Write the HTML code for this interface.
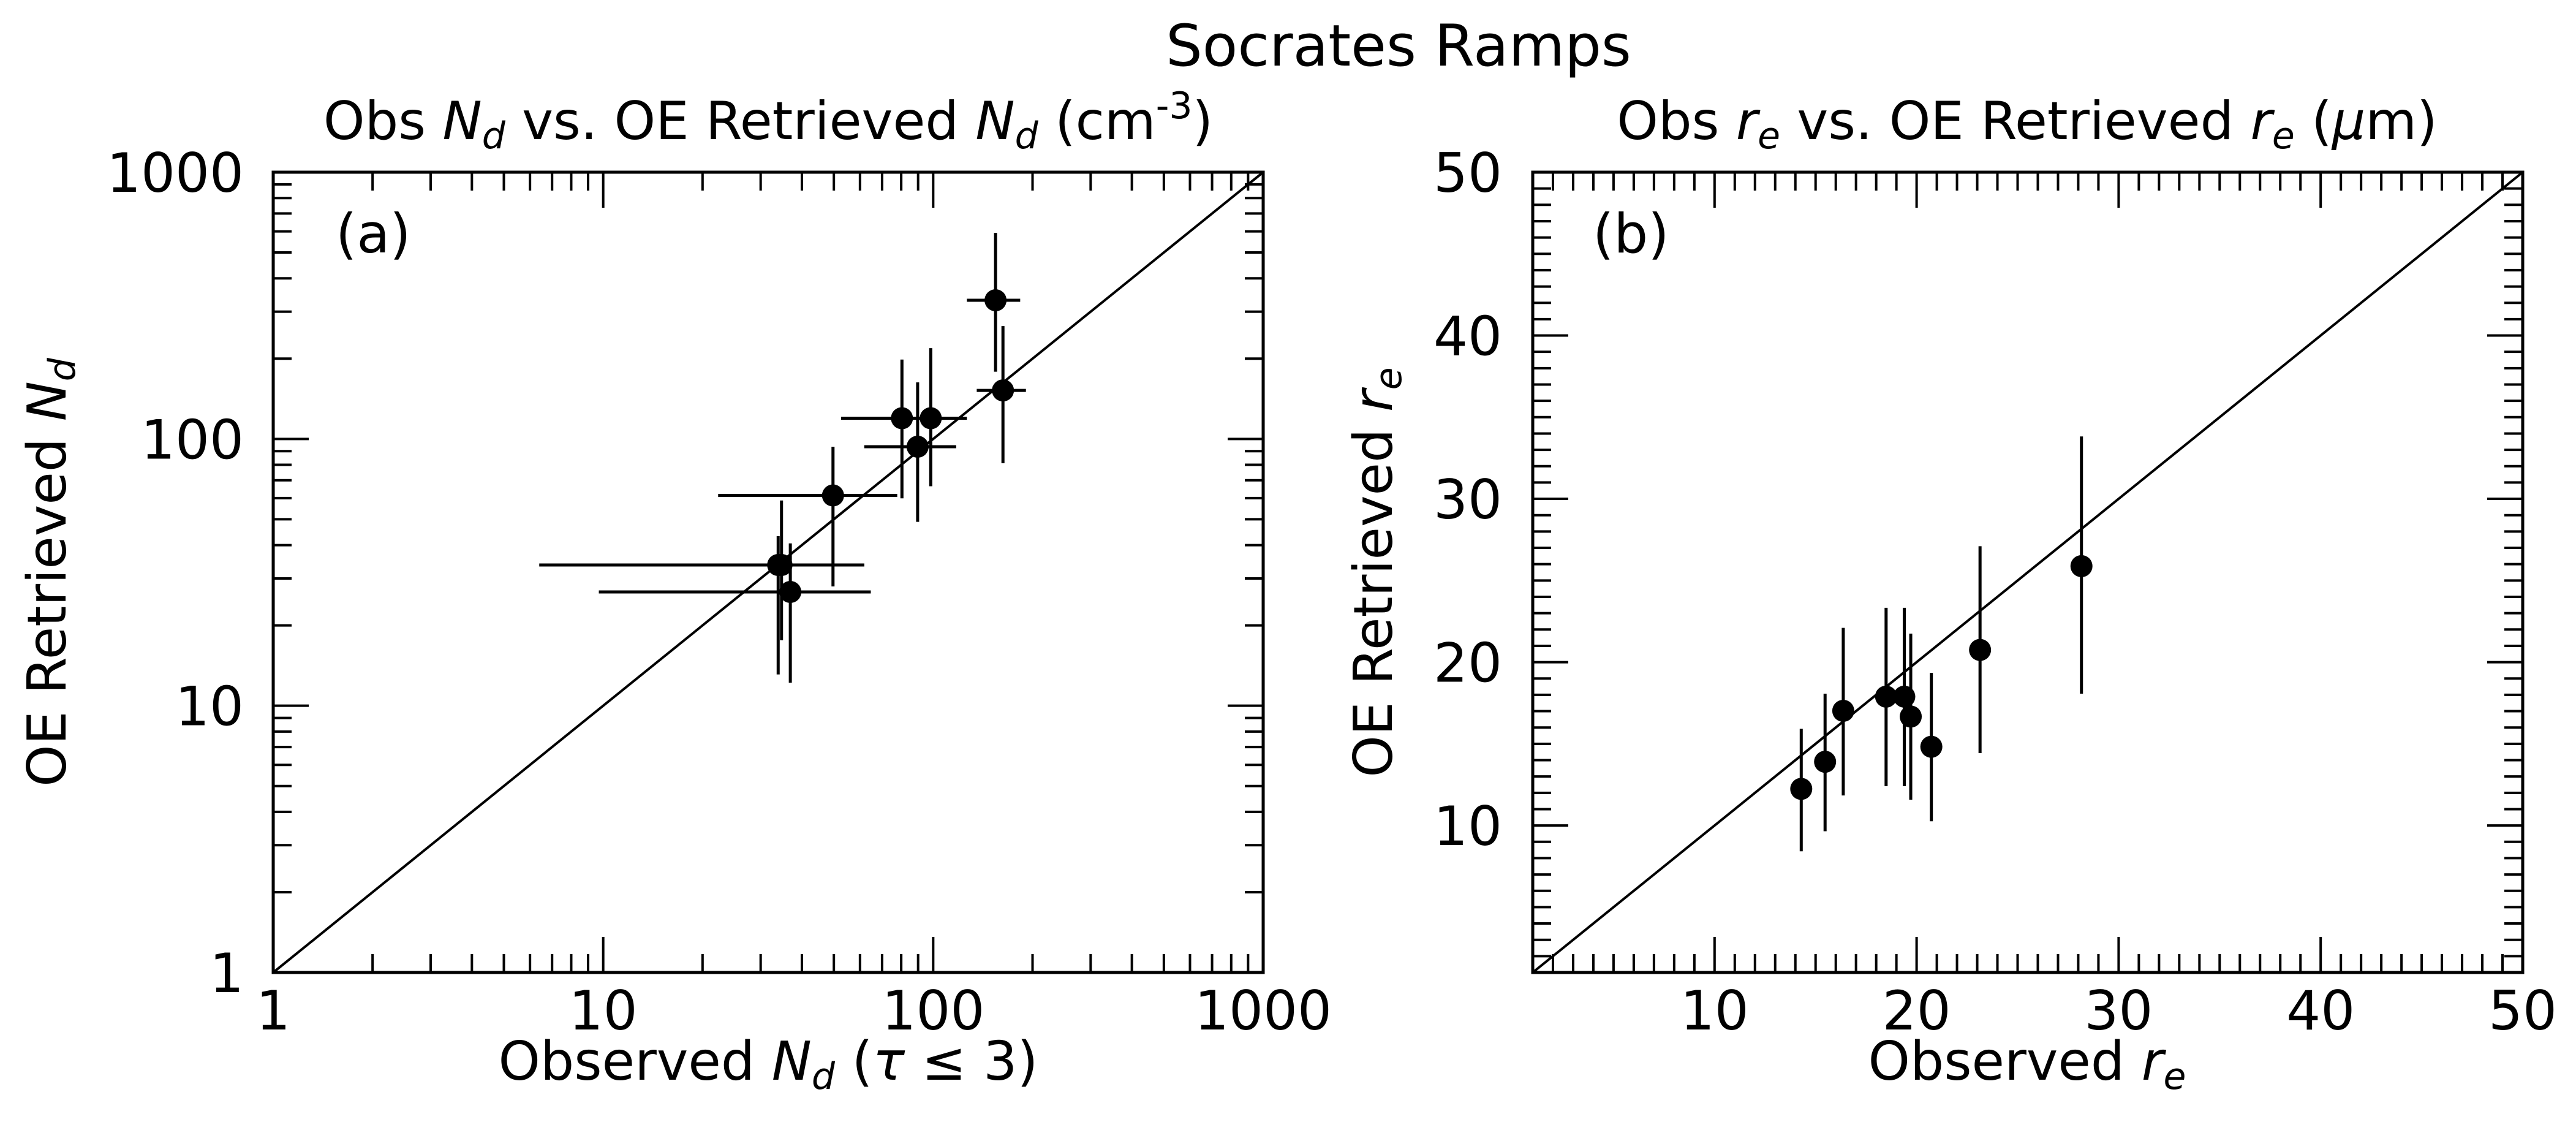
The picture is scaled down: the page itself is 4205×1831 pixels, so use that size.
<!DOCTYPE html>
<html><head><meta charset="utf-8"><style>
html,body{margin:0;padding:0;background:#fff;}
svg{display:block;font-family:"DejaVu Sans","Liberation Sans",sans-serif;}
</style></head><body>
<svg id="chart" width="4205" height="1831" viewBox="0 0 4205 1831" xmlns="http://www.w3.org/2000/svg">
<rect width="4205" height="1831" fill="#fff"/>
<text x="2283" y="107" font-size="94" text-anchor="middle">Socrates Ramps</text>
<text x="1254" y="227" font-size="86" text-anchor="middle">Obs <tspan font-style="italic">N</tspan><tspan font-style="italic" font-size="60" dy="15">d</tspan><tspan dy="-15"> vs. OE Retrieved </tspan><tspan font-style="italic">N</tspan><tspan font-style="italic" font-size="60" dy="15">d</tspan><tspan dy="-15"> (cm</tspan><tspan font-size="60" dy="-34">-3</tspan><tspan dy="34">)</tspan></text>
<text x="3309" y="227" font-size="86" text-anchor="middle">Obs <tspan font-style="italic">r</tspan><tspan font-style="italic" font-size="60" dy="15">e</tspan><tspan dy="-15"> vs. OE Retrieved </tspan><tspan font-style="italic">r</tspan><tspan font-style="italic" font-size="60" dy="15">e</tspan><tspan dy="-15"> (</tspan><tspan font-style="italic">μ</tspan><tspan>m)</tspan></text>
<text x="1254" y="1762" font-size="87" text-anchor="middle">Observed <tspan font-style="italic">N</tspan><tspan font-style="italic" font-size="60" dy="15">d</tspan><tspan dy="-15"> (</tspan><tspan font-style="italic">τ</tspan><tspan> ≤ 3)</tspan></text>
<text x="3309" y="1762" font-size="87" text-anchor="middle">Observed <tspan font-style="italic">r</tspan><tspan font-style="italic" font-size="60" dy="15">e</tspan></text>
<text transform="translate(107,934) rotate(-90)" font-size="87" text-anchor="middle">OE Retrieved <tspan font-style="italic">N</tspan><tspan font-style="italic" font-size="60" dy="15">d</tspan></text>
<text transform="translate(2272,934) rotate(-90)" font-size="87" text-anchor="middle">OE Retrieved <tspan font-style="italic">r</tspan><tspan font-style="italic" font-size="60" dy="15">e</tspan></text>
<g id="pa"></g>
<g id="pb"></g>
</svg>
<script>
// Panel (a): Nd, log axes
const ndObs = [33.9, 34.7, 36.9, 49.7, 80.4, 98.3, 89.7, 154.5, 162.7];
const ndRet = [33.7, 33.7, 26.7, 61.4, 119.6, 119.6, 93.5, 331, 152];
const ndObsLo = [6.4, 7.2, 9.7, 22.3, 52.6, 76.4, 61.8, 126.5, 135.5];
const ndObsHi = [61.8, 61.8, 64.7, 77.8, 107.7, 126.5, 117.4, 183.5, 191];
const ndRetLo = [13.1, 17.6, 12.2, 28.0, 59.9, 66.5, 48.9, 178.6, 81.1];
const ndRetHi = [43.2, 58.8, 40.6, 93.5, 198.5, 219, 163, 592, 265];
const ndTicks = [1, 10, 100, 1000];
const ndTickLabels = ["1", "10", "100", "1000"];
// Panel (b): re, linear axes
const reObs = [14.29, 15.47, 16.37, 18.49, 19.39, 19.71, 20.73, 23.14, 28.16];
const reRet = [12.24, 13.90, 17.02, 17.89, 17.89, 16.67, 14.82, 20.75, 25.88];
const reRetLo = [8.42, 9.65, 11.84, 12.41, 12.41, 11.58, 10.26, 14.43, 18.07];
const reRetHi = [15.92, 18.07, 22.1, 23.33, 23.33, 21.75, 19.34, 27.1, 33.82];
const reTicks = [10, 20, 30, 40, 50];
const reTickLabels = ["10", "20", "30", "40", "50"];

const NS = "http://www.w3.org/2000/svg";
function mk(parent, tag, attrs) {
  const e = document.createElementNS(NS, tag);
  for (const k in attrs) e.setAttribute(k, attrs[k]);
  parent.appendChild(e);
  return e;
}
const TOP = 281, BOT = 1587;

// ---------- Panel A ----------
(function () {
  const g = document.getElementById('pa');
  const L = 446, R = 2062;
  const sx = v => L + (Math.log10(v) - 0) / 3 * (R - L);
  const sy = v => BOT - (Math.log10(v) - 0) / 3 * (BOT - TOP);
  const clip = mk(g, 'clipPath', { id: 'ca' });
  mk(clip, 'rect', { x: L, y: TOP, width: R - L, height: BOT - TOP });
  const diag = mk(g, 'line', { x1: sx(1), y1: sy(1), x2: sx(1000), y2: sy(1000), stroke: '#000', 'stroke-width': 4, 'clip-path': 'url(#ca)' });
  
  
  for (let d = 0; d < 3; d++) {
    for (let m = 1; m <= 9; m++) {
      const v = Math.pow(10, d) * m;
      const len = m === 1 ? 58 : 30;
      const x = sx(v), y = sy(v);
      mk(g, 'line', { x1: x, y1: BOT, x2: x, y2: BOT - len, stroke: '#000', 'stroke-width': 4 });
      mk(g, 'line', { x1: x, y1: TOP, x2: x, y2: TOP + len, stroke: '#000', 'stroke-width': 4 });
      mk(g, 'line', { x1: L, y1: y, x2: L + len, y2: y, stroke: '#000', 'stroke-width': 4 });
      mk(g, 'line', { x1: R, y1: y, x2: R - len, y2: y, stroke: '#000', 'stroke-width': 4 });
    }
  }
  ndTicks.forEach((v, i) => {
    const tx = mk(g, 'text', { x: sx(v), y: 1680, 'font-size': 88, 'text-anchor': 'middle' });
    tx.textContent = ndTickLabels[i];
    
    
    const ty = mk(g, 'text', { x: 398, y: sy(v) + 32, 'font-size': 88, 'text-anchor': 'end' });
    ty.textContent = ndTickLabels[i];
    
    
  });
  ndObs.forEach((v, i) => {
    const pt = mk(g, 'g', {});
    
    
    mk(pt, 'line', { x1: sx(ndObsLo[i]), y1: sy(ndRet[i]), x2: sx(ndObsHi[i]), y2: sy(ndRet[i]), stroke: '#000', 'stroke-width': 5 });
    mk(pt, 'line', { x1: sx(v), y1: sy(ndRetLo[i]), x2: sx(v), y2: sy(ndRetHi[i]), stroke: '#000', 'stroke-width': 5 });
    mk(pt, 'circle', { cx: sx(v), cy: sy(ndRet[i]), r: 18, fill: '#000' });
  });
  const fr = mk(g, 'rect', { x: L, y: TOP, width: R - L, height: BOT - TOP, fill: 'none', stroke: '#000', 'stroke-width': 5 });
  
  
  const lab = mk(g, 'text', { x: 548, y: 412, 'font-size': 88 });
  lab.textContent = '(a)';
  
  
})();

// ---------- Panel B ----------
(function () {
  const g = document.getElementById('pb');
  const L = 2502, R = 4118;
  const sx = v => L + (v - 1) / 49 * (R - L);
  const sy = v => BOT - (v - 1) / 49 * (BOT - TOP);
  const diag = mk(g, 'line', { x1: sx(1), y1: sy(1), x2: sx(50), y2: sy(50), stroke: '#000', 'stroke-width': 4 });
  
  
  for (let v = 2; v <= 49; v++) {
    const len = v % 10 === 0 ? 58 : 30;
    const x = sx(v), y = sy(v);
    mk(g, 'line', { x1: x, y1: BOT, x2: x, y2: BOT - len, stroke: '#000', 'stroke-width': 4 });
    mk(g, 'line', { x1: x, y1: TOP, x2: x, y2: TOP + len, stroke: '#000', 'stroke-width': 4 });
    mk(g, 'line', { x1: L, y1: y, x2: L + len, y2: y, stroke: '#000', 'stroke-width': 4 });
    mk(g, 'line', { x1: R, y1: y, x2: R - len, y2: y, stroke: '#000', 'stroke-width': 4 });
  }
  reTicks.forEach((v, i) => {
    const tx = mk(g, 'text', { x: sx(v), y: 1680, 'font-size': 88, 'text-anchor': 'middle' });
    tx.textContent = reTickLabels[i];
    
    
    const ty = mk(g, 'text', { x: 2452, y: sy(v) + 32, 'font-size': 88, 'text-anchor': 'end' });
    ty.textContent = reTickLabels[i];
    
    
  });
  reObs.forEach((v, i) => {
    const pt = mk(g, 'g', {});
    
    
    mk(pt, 'line', { x1: sx(v), y1: sy(reRetLo[i]), x2: sx(v), y2: sy(reRetHi[i]), stroke: '#000', 'stroke-width': 5 });
    mk(pt, 'circle', { cx: sx(v), cy: sy(reRet[i]), r: 18, fill: '#000' });
  });
  const fr = mk(g, 'rect', { x: L, y: TOP, width: R - L, height: BOT - TOP, fill: 'none', stroke: '#000', 'stroke-width': 5 });
  
  
  const lab = mk(g, 'text', { x: 2600, y: 412, 'font-size': 88 });
  lab.textContent = '(b)';
  
  
})();
</script>
</body></html>
